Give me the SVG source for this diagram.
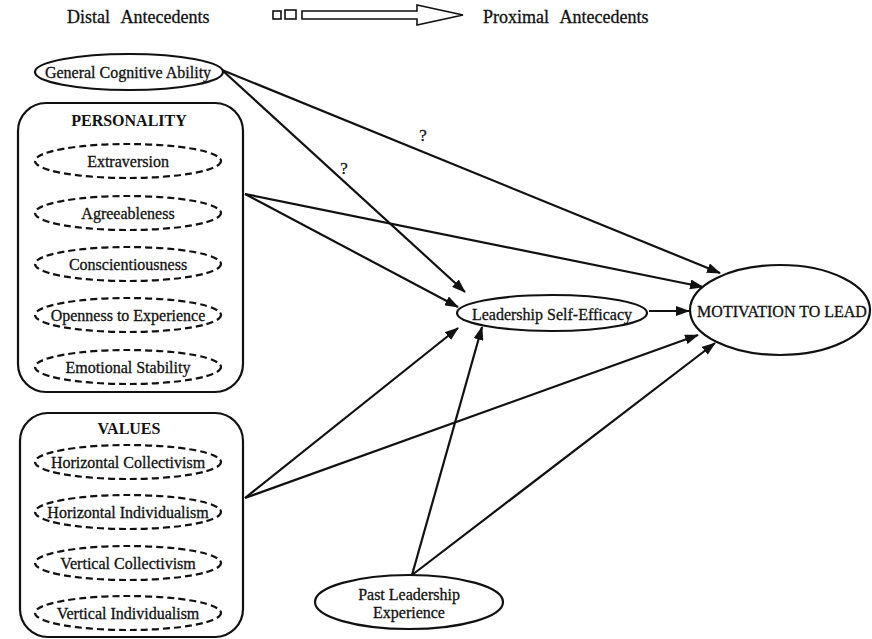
<svg xmlns="http://www.w3.org/2000/svg" width="872" height="639" viewBox="0 0 872 639">
<style>
text{font-family:"Liberation Serif","Times New Roman",serif;fill:#111;stroke:#111;stroke-width:0.3;text-anchor:middle;dominant-baseline:central}
.lbl{font-size:16px}
.q{font-size:17px}
.hdr{font-size:18px;text-anchor:start;word-spacing:7px}
.ttl{font-size:16px;font-weight:bold;stroke-width:0}
.node{fill:#fff;stroke:#111;stroke-width:2.2}
.dash{fill:none;stroke:#111;stroke-width:2.2;stroke-dasharray:7 4}
.box{fill:#fff;stroke:#111;stroke-width:2.2}
.edge{stroke:#111;stroke-width:2.2;fill:none;marker-end:url(#ah)}
</style>
<defs>
<marker id="ah" markerUnits="userSpaceOnUse" viewBox="0 0 14 10" refX="13" refY="5" markerWidth="14" markerHeight="10" orient="auto">
<path d="M0,0 L14,5 L0,10 z" fill="#111"/>
</marker>
</defs>
<rect width="872" height="639" fill="#fff"/>
<g id="header">
<text class="hdr" x="67" y="17">Distal Antecedents</text>
<rect x="273" y="11" width="8" height="8" fill="none" stroke="#111" stroke-width="1.6"/>
<rect x="285" y="10" width="11" height="9" fill="none" stroke="#111" stroke-width="1.6"/>
<path d="M302,11 L417,11 L417,5 L463,15 L417,25 L417,19 L302,19 Z" fill="none" stroke="#111" stroke-width="1.6"/>
<text class="hdr" x="483" y="17">Proximal Antecedents</text>
</g>
<g id="connectors">
<line class="edge" x1="222" y1="70" x2="720" y2="273"/>
<line class="edge" x1="222" y1="70" x2="465" y2="292"/>
<line class="edge" x1="245" y1="194" x2="703" y2="287"/>
<line class="edge" x1="245" y1="194" x2="458" y2="307"/>
<line class="edge" x1="245" y1="498" x2="458" y2="328"/>
<line class="edge" x1="245" y1="498" x2="698" y2="335"/>
<line class="edge" x1="412" y1="575" x2="482" y2="327"/>
<line class="edge" x1="412" y1="575" x2="715" y2="343"/>
<line class="edge" x1="649" y1="311" x2="689" y2="311"/>
<text class="q" x="423" y="135">?</text>
<text class="q" x="344" y="168">?</text>
</g>
<g id="gca">
<ellipse class="node" cx="129" cy="72" rx="94" ry="18"/>
<text class="lbl" x="128" y="72">General Cognitive Ability</text>
</g>
<g id="personality">
<rect class="box" x="18" y="103" width="225" height="289" rx="28"/>
<text class="ttl" x="129" y="120">PERSONALITY</text>
<ellipse class="dash" cx="128" cy="161" rx="93" ry="17"/>
<text class="lbl" x="128" y="161">Extraversion</text>
<ellipse class="dash" cx="128" cy="213" rx="93" ry="17"/>
<text class="lbl" x="128" y="213">Agreeableness</text>
<ellipse class="dash" cx="128" cy="264" rx="93" ry="17"/>
<text class="lbl" x="128" y="264">Conscientiousness</text>
<ellipse class="dash" cx="128" cy="315" rx="93" ry="17"/>
<text class="lbl" x="128" y="315">Openness to Experience</text>
<ellipse class="dash" cx="128" cy="367" rx="93" ry="17"/>
<text class="lbl" x="128" y="367">Emotional Stability</text>
</g>
<g id="values">
<rect class="box" x="20" y="413" width="223" height="224" rx="28"/>
<text class="ttl" x="129" y="428">VALUES</text>
<ellipse class="dash" cx="128" cy="462" rx="93" ry="17"/>
<text class="lbl" x="128" y="462">Horizontal Collectivism</text>
<ellipse class="dash" cx="128" cy="512" rx="93" ry="17"/>
<text class="lbl" x="128" y="512">Horizontal Individualism</text>
<ellipse class="dash" cx="128" cy="563" rx="93" ry="17"/>
<text class="lbl" x="128" y="563">Vertical Collectivism</text>
<ellipse class="dash" cx="128" cy="613" rx="93" ry="17"/>
<text class="lbl" x="128" y="613">Vertical Individualism</text>
</g>
<g id="lse">
<ellipse class="node" cx="552" cy="313" rx="95" ry="18"/>
<text class="lbl" x="552" y="314">Leadership Self-Efficacy</text>
</g>
<g id="mtl">
<ellipse class="node" cx="780" cy="310" rx="90" ry="45"/>
<text class="lbl" x="782" y="311">MOTIVATION TO LEAD</text>
</g>
<g id="ple">
<ellipse class="node" cx="409" cy="602" rx="94" ry="27"/>
<text class="lbl" x="409" y="594">Past Leadership</text>
<text class="lbl" x="409" y="612">Experience</text>
</g>
</svg>
